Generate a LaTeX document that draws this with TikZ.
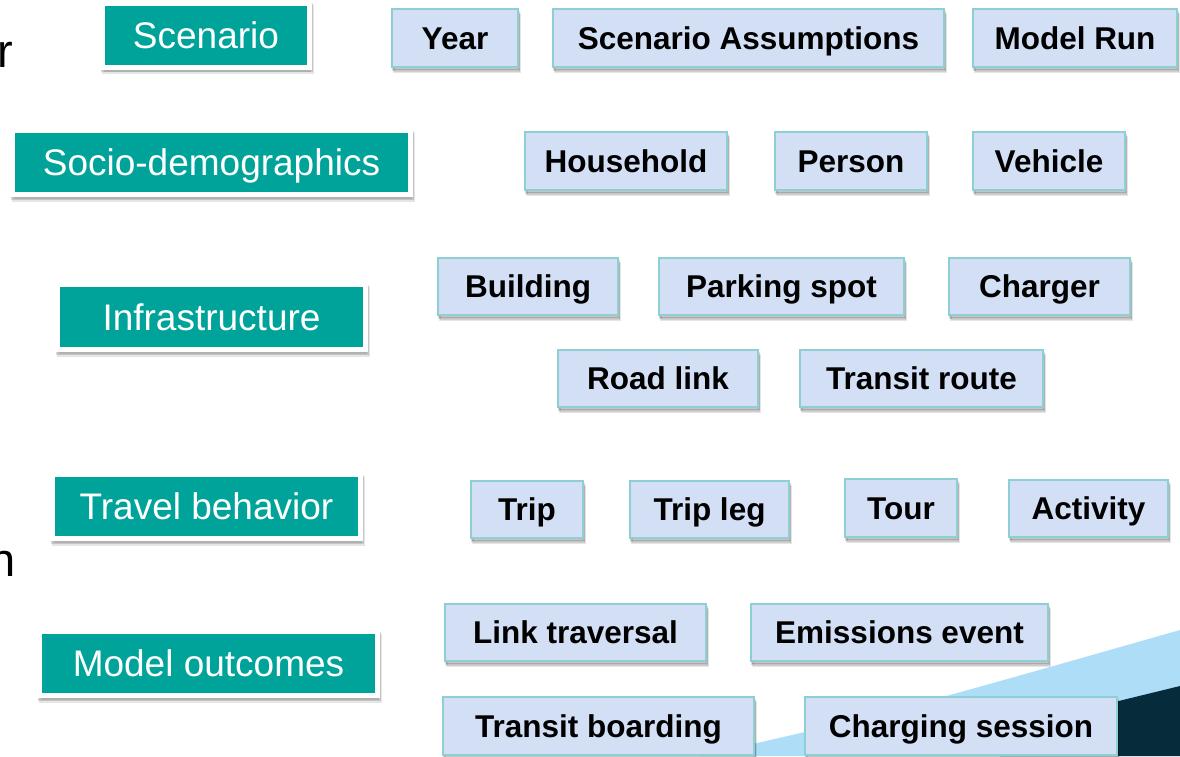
\documentclass[tikz,border=0pt]{standalone}
\usepackage{fontspec}
\setmainfont{Liberation Sans}
\usetikzlibrary{shadows}
\definecolor{teal1}{HTML}{00A39A}
\definecolor{bluefill}{HTML}{D2DFF5}
\definecolor{blueedge}{HTML}{8ECFD3}
\definecolor{lightbg}{HTML}{AEDDF8}
\definecolor{darkbg}{HTML}{062C3B}
\tikzset{
  softshadow/.style={
    drop shadow={fill=black, draw=black, line width=#1, opacity=0.10,
      shadow xshift=1.5pt, shadow yshift=-4.5pt},
    drop shadow={fill=black, draw=black, line width=#1, opacity=0.14,
      shadow xshift=1pt, shadow yshift=-2.5pt}},
  cat/.style={fill=teal1, draw=white, line width=5pt, text=white,
    font=\fontsize{37}{40}\selectfont, text height=26.5pt, text depth=0pt,
    inner sep=0pt, minimum height=64pt, softshadow=5pt},
  ent/.style={fill=bluefill, draw=blueedge, line width=2pt, text=black,
    font=\bfseries\fontsize{31.5}{34}\selectfont, text height=22.6pt, text depth=0pt,
    inner sep=0pt, minimum height=58pt, softshadow=2pt},
  frag/.style={text=black, font=\fontsize{47}{50}\selectfont, inner sep=0pt}
}
\begin{document}
\begin{tikzpicture}[x=1pt,y=-1pt]
\useasboundingbox (0,0) rectangle (1180,756);
% slide decoration
\fill[lightbg] (700,756) .. controls (885,714) .. (1180,630) -- (1180,756) -- cycle;
\fill[darkbg] (1000,730) -- (1180,686) -- (1180,756) -- (1000,756) -- cycle;
% cut-off slide text
\node[frag, anchor=base east] (fr) at (13,67) {r};
\node[frag, anchor=base east] (fn) at (16,576) {n};
% categories
\node[cat, minimum width=207pt] (scen) at (206,35) {Scenario};
\node[cat, minimum width=398pt] (socio) at (211.5,162.5) {Socio-demographics};
\node[cat, minimum width=308pt, minimum height=65pt] (infra) at (211.5,317) {Infrastructure};
\node[cat, minimum width=308pt] (travel) at (206.5,506.5) {Travel behavior};
\node[cat, minimum width=338pt] (outc) at (208.5,663.5) {Model outcomes};
% row 1
\node[ent, minimum width=126pt] (year) at (455,38) {Year};
\node[ent, minimum width=391pt] (assum) at (748.5,38) {Scenario Assumptions};
\node[ent, minimum width=204pt] (run) at (1075,38) {Model Run};
% row 2
\node[ent, minimum width=202pt] (hh) at (626,161) {Household};
\node[ent, minimum width=152pt] (person) at (851,161) {Person};
\node[ent, minimum width=152pt] (veh) at (1049,161) {Vehicle};
% row 3
\node[ent, minimum width=180pt, minimum height=57pt] (bldg) at (528,286.5) {Building};
\node[ent, minimum width=245pt, minimum height=57pt] (park) at (781.5,286.5) {Parking spot};
\node[ent, minimum width=181pt, minimum height=57pt] (charger) at (1039.5,286.5) {Charger};
% row 4
\node[ent, minimum width=200pt, minimum height=57pt] (road) at (658,378.5) {Road link};
\node[ent, minimum width=243pt, minimum height=57pt] (troute) at (921.5,378.5) {Transit route};
% row 5
\node[ent, minimum width=112pt, minimum height=57pt] (trip) at (527,509.5) {Trip};
\node[ent, minimum width=159pt, minimum height=57pt] (leg) at (709.5,509.5) {Trip leg};
\node[ent, minimum width=112pt] (tour) at (901,508) {Tour};
\node[ent, minimum width=159pt, minimum height=57pt] (act) at (1088.5,508.5) {Activity};
% row 6
\node[ent, minimum width=261pt, minimum height=57pt] (link) at (575.5,632.5) {Link traversal};
\node[ent, minimum width=297pt, minimum height=57pt] (emis) at (899.5,632.5) {Emissions event};
% row 7
\node[ent, minimum width=311pt] (board) at (598.5,726) {Transit boarding};
\node[ent, minimum width=312pt] (charge) at (961,726) {Charging session};
\end{tikzpicture}
\end{document}
